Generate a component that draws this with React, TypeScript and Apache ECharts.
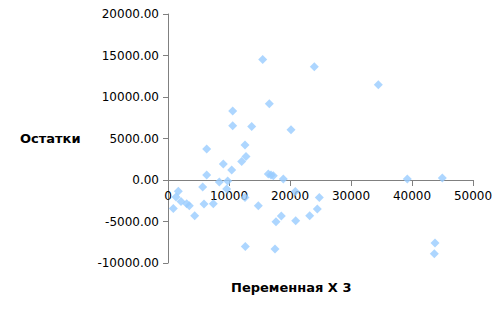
import React, { useEffect, useRef } from "react";
import * as echarts from "echarts";

const xValues: number[] = [
  869, 1311, 1689, 2131, 3060, 3497, 4372, 5683, 5902, 6339, 6339, 7432, 8415, 9071, 9617, 9781,
  10437, 12076, 12623, 12787, 14809, 12678, 16448, 16885, 17268, 18907, 17705, 18579, 17541,
  20874, 20929, 23224, 24481, 24809, 16607, 10607, 10607, 13721, 15525, 23984, 20164, 34475,
  39230, 44967, 43770, 43656, 12623,
];
const residuals: number[] = [
  -3420, -2050, -1370, -2580, -2855, -3100, -4300, -843, -2890, 3735, 602, -2855, -241, 1928,
  -1084, -120, 1205, 2240, 4217, 2843, -3096, -8000, 723, 602, 518, 120, -5024, -4337, -8313,
  -1373, -4904, -4300, -3494, -2096, 9193, 8313, 6542, 6458, 14530, 13650, 6060, 11482, 120,
  241, -7590, -8880, -2096,
];

const xAxisTitle = "Переменная X 3";
const yAxisTitle = "Остатки";

export default function App() {
  const ref = useRef<HTMLDivElement>(null);
  useEffect(() => {
    if (!ref.current) return;
    const chart = echarts.init(ref.current, undefined, { renderer: "svg" });
    const font = "DejaVu Sans";
    chart.setOption({
      animation: false,
      backgroundColor: "#ffffff",
      grid: { left: 168, right: 30, top: 14, bottom: 53, containLabel: false },
      xAxis: {
        type: "value",
        min: 0,
        max: 50000,
        interval: 10000,
        offset: -83,
        splitLine: { show: false },
        axisLine: { onZero: false, lineStyle: { color: "#808080", width: 1 } },
        axisTick: { show: true, length: 6, lineStyle: { color: "#808080" } },
        axisLabel: {
          color: "#000000",
          fontFamily: font,
          fontSize: 12,
          margin: 10,
          formatter: (v: number) => String(v),
        },
      },
      yAxis: {
        type: "value",
        min: -10000,
        max: 20000,
        interval: 5000,
        splitLine: { show: false },
        axisLine: { show: true, onZero: false, lineStyle: { color: "#808080", width: 1 } },
        axisTick: { show: true, length: 5, lineStyle: { color: "#808080" } },
        axisLabel: {
          color: "#000000",
          fontFamily: font,
          fontSize: 12,
          margin: 9,
          formatter: (v: number) => v.toFixed(2),
        },
      },
      graphic: [
        {
          type: "text",
          left: 20,
          top: 132,
          style: {
            text: yAxisTitle,
            fontFamily: font,
            fontSize: 13,
            fontWeight: "bold",
            fill: "#000000",
          },
        },
        {
          type: "text",
          left: 231,
          top: 281,
          style: {
            text: xAxisTitle,
            fontFamily: font,
            fontSize: 13,
            fontWeight: "bold",
            fill: "#000000",
          },
        },
      ],
      series: [
        {
          type: "scatter",
          symbol: "diamond",
          symbolSize: 9,
          itemStyle: { color: "#99ccff" },
          data: xValues.map((x, i) => [x, residuals[i]]),
        },
      ],
    });
    return () => chart.dispose();
  }, []);
  return (
    <div
      ref={ref}
      style={{ position: "fixed", left: 0, top: 0, width: 503, height: 316 }}
    />
  );
}
